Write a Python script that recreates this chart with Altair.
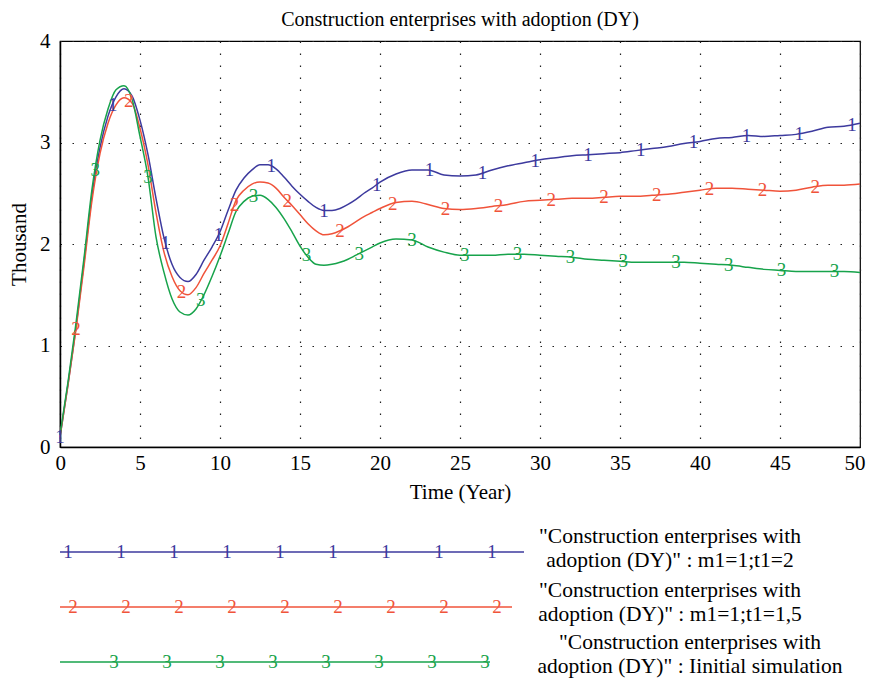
import altair as alt
import pandas as pd
import numpy as np

# ---------------- data ----------------
TIME = [0, 0.5, 1, 1.5, 2, 2.5, 3, 3.5, 4, 4.5, 5, 5.5, 6, 6.5, 7, 7.5, 8, 8.5, 9, 9.5,
        10, 10.5, 11, 11.5, 12, 12.5, 13, 13.5, 14, 14.5, 15, 15.5, 16, 16.5, 17, 17.5,
        18, 18.5, 19, 19.5, 20,
        21, 22, 23, 24, 25, 26, 27, 28, 29, 30, 31, 32, 33, 34, 35, 36, 37, 38, 39, 40,
        41, 42, 43, 44, 45, 46, 47, 48, 49, 50]

BLUE = [0.10, 0.62, 1.18, 1.82, 2.48, 2.95, 3.26, 3.45, 3.53, 3.46, 3.22, 2.88, 2.45, 2.06,
        1.80, 1.67, 1.63, 1.70, 1.84, 1.97, 2.12, 2.33, 2.53, 2.65, 2.73, 2.78, 2.78, 2.74,
        2.66, 2.57, 2.49, 2.42, 2.36, 2.33, 2.33, 2.35, 2.39, 2.44, 2.50, 2.55, 2.61,
        2.69, 2.73, 2.73, 2.68, 2.67, 2.68, 2.73, 2.77, 2.80, 2.83, 2.85, 2.87, 2.88, 2.89,
        2.90, 2.92, 2.94, 2.96, 2.99, 3.01, 3.04, 3.05, 3.07, 3.06, 3.07, 3.08, 3.11, 3.15,
        3.16, 3.19]

RED = [0.10, 0.61, 1.16, 1.78, 2.43, 2.89, 3.19, 3.37, 3.44, 3.39, 3.14, 2.78, 2.31, 1.92,
       1.68, 1.54, 1.50, 1.57, 1.71, 1.84, 1.98, 2.20, 2.43, 2.53, 2.59, 2.61, 2.60, 2.55,
       2.46, 2.38, 2.29, 2.20, 2.13, 2.09, 2.10, 2.13, 2.17, 2.22, 2.27, 2.31, 2.35,
       2.41, 2.42, 2.39, 2.35, 2.34, 2.35, 2.37, 2.39, 2.42, 2.43, 2.44, 2.45, 2.45, 2.46,
       2.47, 2.47, 2.48, 2.49, 2.51, 2.53, 2.55, 2.55, 2.54, 2.53, 2.52, 2.53, 2.56, 2.58,
       2.58, 2.59]

GREEN = [0.12, 0.64, 1.22, 1.86, 2.54, 3.02, 3.33, 3.52, 3.56, 3.43, 3.06, 2.66, 2.07, 1.72,
         1.46, 1.33, 1.30, 1.36, 1.50, 1.68, 1.88, 2.10, 2.32, 2.42, 2.47, 2.48, 2.44, 2.36,
         2.25, 2.12, 1.98, 1.87, 1.80, 1.79, 1.80, 1.82, 1.85, 1.89, 1.93, 1.97, 2.01,
         2.05, 2.04, 1.97, 1.92, 1.89, 1.89, 1.89, 1.90, 1.90, 1.89, 1.88, 1.87, 1.85, 1.84,
         1.83, 1.82, 1.82, 1.82, 1.82, 1.81, 1.80, 1.79, 1.77, 1.75, 1.74, 1.73, 1.73, 1.73,
         1.73, 1.72]

SERIES = ["m1=1;t1=2", "m1=1;t1=1,5", "Iinitial simulation"]
DIGITS = ["1", "2", "3"]
MARK_START = [0.0, 1.0, 2.2]        # first marker time for each series
MARK_STEP = 3.3                      # years between markers
LEGEND_L1 = ['"Construction enterprises with', '"Construction enterprises with',
             '"Construction enterprises with']
LEGEND_L2 = ['adoption (DY)" : m1=1;t1=2', 'adoption (DY)" : m1=1;t1=1,5',
             'adoption (DY)" : Iinitial simulation']

COLORS = ["#3d3a9e", "#f0533a", "#17a34b"]
FONT = "Liberation Serif"

# ---------------- tables ----------------
rows = []
for name, vals in zip(SERIES, [BLUE, RED, GREEN]):
    for t, v in zip(TIME, vals):
        rows.append({"t": t, "v": v, "series": name})
df = pd.DataFrame(rows)

mrows = []
for name, vals, d, s in zip(SERIES, [BLUE, RED, GREEN], DIGITS, MARK_START):
    ts = np.arange(s, 50.0, MARK_STEP)
    ys = np.interp(ts, TIME, vals)
    for t, v in zip(ts, ys):
        mrows.append({"t": float(t), "v": float(v), "series": name, "d": d})
mdf = pd.DataFrame(mrows)

color = alt.Color("series:N", scale=alt.Scale(domain=SERIES, range=COLORS), legend=None)
xenc = alt.X("t:Q", scale=alt.Scale(domain=[0, 50], nice=False),
             axis=alt.Axis(values=list(range(0, 51, 5)), title="Time (Year)", format="d",
                           labelPadding=5, titlePadding=8, labelFlush=True,
                           labelFlushOffset=5))
yenc = alt.Y("v:Q", scale=alt.Scale(domain=[0, 4], nice=False),
             axis=alt.Axis(values=[0, 1, 2, 3, 4], title="Thousand", format="d",
                           labelPadding=10, titlePadding=10, labelFlush=False))

lines = alt.Chart(df).mark_line(interpolate="monotone", strokeWidth=1.5).encode(
    x=xenc, y=yenc, color=color, detail="series:N")

markers = alt.Chart(mdf).mark_text(font=FONT, fontSize=19, baseline="middle",
                                   align="center").encode(
    x="t:Q", y="v:Q", text="d:N", color=color)

layers = [lines, markers]

# ---------------- custom legend below the plot ----------------
leg_y = [511, 566, 621]
leg_end = [464, 452, 430]
leg_first = [8, 13, 54]
leg_count = [9, 9, 8]
leg_tx = [610, 610, 630]
leg_ty = [496, 550, 602]
for i in range(3):
    layers.append(
        alt.Chart(pd.DataFrame({"a": [0]})).mark_rule(color=COLORS[i], strokeWidth=1.5).encode(
            x=alt.value(0), x2=alt.value(leg_end[i]), y=alt.value(leg_y[i])))
    layers.append(
        alt.Chart(pd.DataFrame({"k": list(range(leg_count[i]))}))
        .transform_calculate(px=f"{leg_first[i]} + 53*datum.k")
        .mark_text(font=FONT, fontSize=19, color=COLORS[i], baseline="middle", align="center")
        .encode(x=alt.X("px:Q", scale=None), y=alt.value(leg_y[i]), text=alt.value(DIGITS[i])))
    layers.append(
        alt.Chart(pd.DataFrame({"a": [0]})).mark_text(font=FONT, fontSize=21.5, color="black",
                                                      baseline="middle", align="center")
        .encode(x=alt.value(leg_tx[i]), y=alt.value(leg_ty[i]), text=alt.value(LEGEND_L1[i])))
    layers.append(
        alt.Chart(pd.DataFrame({"a": [0]})).mark_text(font=FONT, fontSize=21.5, color="black",
                                                      baseline="middle", align="center")
        .encode(x=alt.value(leg_tx[i]), y=alt.value(leg_ty[i] + 24), text=alt.value(LEGEND_L2[i])))

chart = alt.layer(*layers).properties(
    width=800, height=406,
    background="white",
    title=alt.TitleParams("Construction enterprises with adoption (DY)", font=FONT,
                          fontSize=20, fontWeight="normal", anchor="middle", offset=0,
                          color="black"),
    autosize=alt.AutoSizeParams(type="none"),
    padding={"left": 52, "top": 33, "right": 6, "bottom": 231},
).configure_view(stroke="black", strokeWidth=1.2).configure_axis(
    domainColor="black", domainWidth=1.5, ticks=False,
    grid=True, gridColor="#222222", gridDash=[1.5, 10.5], gridWidth=1.2,
    labelFont=FONT, labelFontSize=21, labelColor="black",
    titleFont=FONT, titleFontSize=21, titleFontWeight="normal", titleColor="black",
)

chart.save("out.html", embed_options={"renderer": "svg", "actions": False})
